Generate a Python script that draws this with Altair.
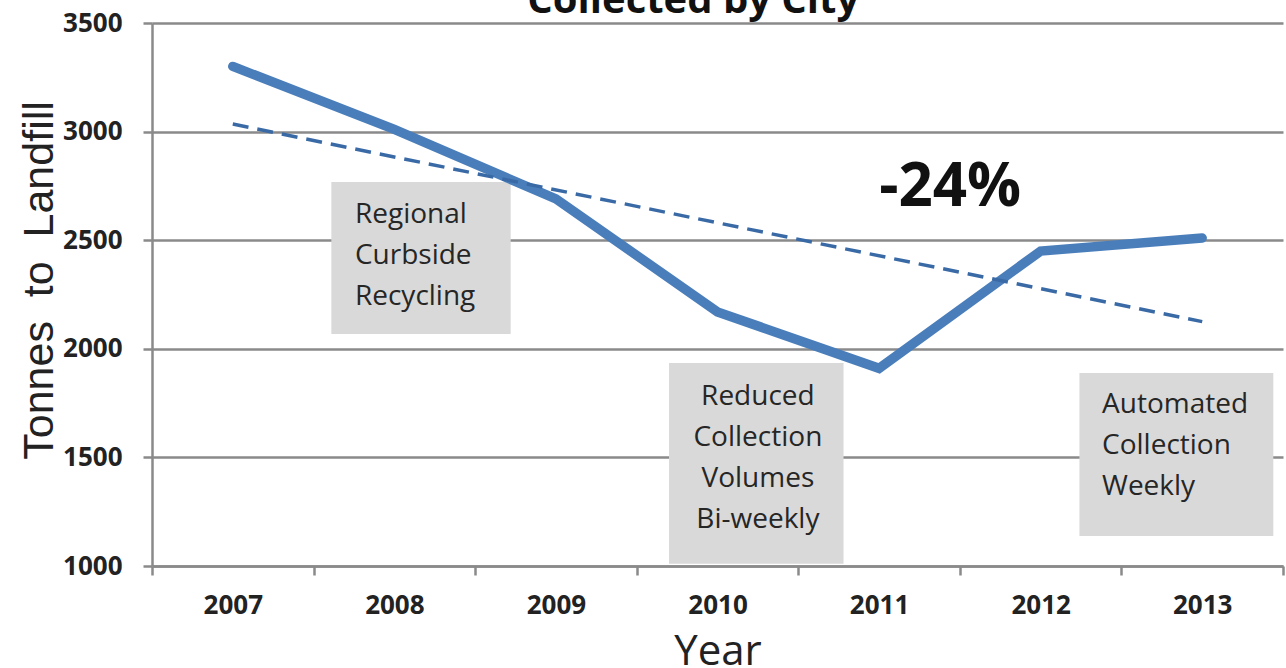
import altair as alt
import pandas as pd

# ---- data ----
years = [2007, 2008, 2009, 2010, 2011, 2012, 2013]
tonnes = [3300, 3010, 2690, 2170, 1910, 2450, 2510]
trend_years = [2007, 2013]
trend_tonnes = [3035, 2125]
x_tick_values = [2006.5, 2007.5, 2008.5, 2009.5, 2010.5, 2011.5, 2012.5, 2013.5]
y_tick_values = [1000, 1500, 2000, 2500, 3000, 3500]

box_x = [2007.61, 2009.70, 2012.24]
box_x2 = [2008.72, 2010.78, 2013.44]
box_y = [2768, 1935, 1889]
box_y2 = [2068, 1010, 1138]

left_notes = ["Regional\nCurbside\n\u2005Recycling", "Automated\nCollection\nWeekly"]
left_note_x = [2007.756, 2012.38]
left_note_y = [2616, 1741]
center_notes = ["Reduced\nCollection\nVolumes\nBi-weekly"]
center_note_x = [2010.25]
center_note_y = [1778]

big_label = ["-24%"]
big_label_x = [2011.44]
big_label_y = [2740]

title_text = ["Collected by City"]
title_x = [2009.85]
title_y = [3546]

GRAY = "#8a8a8a"
TEXT = "#222222"

xs = alt.Scale(domain=[2006.5, 2013.5], nice=False, zero=False)
ys = alt.Scale(domain=[1000, 3500], nice=False, zero=False)

x_axis = alt.Axis(
    values=x_tick_values,
    labelExpr="datum.value < 2013 ? '' + (datum.value + 0.5) : ''",
    labelOffset=80.8,
    labelFlush=False,
    labelOverlap=False,
    grid=False,
    domainColor=GRAY, domainWidth=2.5,
    tickColor=GRAY, tickWidth=2.5, tickSize=9,
    labelFont="Open Sans", labelFontSize=26, labelFontWeight="bold", labelColor=TEXT,
    labelPadding=17,
    title="Year", titleFont="Open Sans", titleFontSize=42, titleFontWeight="normal",
    titleColor=TEXT, titleBaseline="alphabetic", titleY=98,
)
y_axis = alt.Axis(
    values=y_tick_values,
    format="d",
    grid=True, gridColor=GRAY, gridWidth=2.5,
    domainColor=GRAY, domainWidth=2.5,
    tickColor=GRAY, tickWidth=2.5, tickSize=9,
    labelFont="Open Sans", labelFontSize=26, labelFontWeight="bold", labelColor=TEXT,
    labelPadding=21,
    title="Tonnes\u00a0\u00a0to\u00a0\u00a0Landfill",
    titleFont="Liberation Sans", titleFontSize=43, titleFontWeight="normal",
    titleColor=TEXT, titleBaseline="alphabetic", titleX=-100, titleY=257, titleAlign="center",
)


def X(field):
    return alt.X(field, scale=xs, axis=x_axis)


def Y(field):
    return alt.Y(field, scale=ys, axis=y_axis)


boxes = alt.Chart(pd.DataFrame({"x": box_x, "x2": box_x2, "y": box_y, "y2": box_y2})).mark_rect(
    color="#d9d9d9"
).encode(x=X("x:Q"), x2="x2:Q", y=Y("y:Q"), y2="y2:Q")

line = alt.Chart(pd.DataFrame({"x": years, "y": tonnes})).mark_line(
    color="#4a7ebb", strokeWidth=9.5, strokeJoin="miter", strokeCap="round"
).encode(x=X("x:Q"), y=Y("y:Q"))

trend = alt.Chart(pd.DataFrame({"x": trend_years, "y": trend_tonnes})).mark_line(
    color="#3a6aa6", strokeWidth=3.5, strokeDash=[16, 9]
).encode(x=X("x:Q"), y=Y("y:Q"))

left_text = alt.Chart(pd.DataFrame({"t": left_notes, "x": left_note_x, "y": left_note_y})).mark_text(
    align="left", baseline="middle", lineBreak="\n", lineHeight=41,
    font="Open Sans", fontSize=28, color="#262626"
).encode(x=X("x:Q"), y=Y("y:Q"), text="t:N")

center_text = alt.Chart(pd.DataFrame({"t": center_notes, "x": center_note_x, "y": center_note_y})).mark_text(
    align="center", baseline="middle", lineBreak="\n", lineHeight=41,
    font="Open Sans", fontSize=28, color="#262626"
).encode(x=X("x:Q"), y=Y("y:Q"), text="t:N")

big = alt.Chart(pd.DataFrame({"t": big_label, "x": big_label_x, "y": big_label_y})).mark_text(
    align="center", baseline="middle", font="Open Sans", fontSize=60, fontWeight="bold", color="#111111"
).encode(x=X("x:Q"), y=Y("y:Q"), text="t:N")

title = alt.Chart(pd.DataFrame({"t": title_text, "x": title_x, "y": title_y})).mark_text(
    align="center", baseline="alphabetic", font="Open Sans", fontSize=40, fontWeight="bold", color="#111111"
).encode(x=X("x:Q"), y=Y("y:Q"), text="t:N")

chart = alt.layer(boxes, line, trend, left_text, center_text, big, title).properties(
    width=1131, height=543,
    autosize=alt.AutoSizeParams(type="none"),
    padding={"left": 152, "top": 23, "right": 3, "bottom": 102},
    background="white",
).configure_view(stroke=None)

chart.save("out.html", embed_options={"renderer": "svg", "actions": False})
